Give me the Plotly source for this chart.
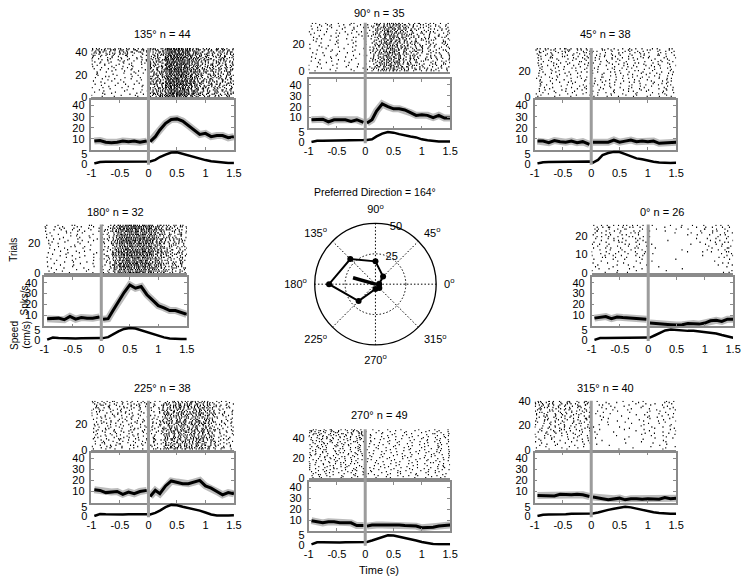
import plotly.graph_objects as go

W, H = 748, 585
FONT = "Liberation Sans, Arial, Helvetica, sans-serif"

# ---------------- data ----------------
DIRECTIONS = [135, 90, 45, 180, 0, 225, 270, 315]
TRIALS = {135: 44, 90: 35, 45: 38, 180: 32, 0: 26, 225: 38, 270: 49, 315: 40}
X_TICKS = [-1, -0.5, 0, 0.5, 1, 1.5]
X_TICK_TEXT = ["-1", "-0.5", "0", "0.5", "1", "1.5"]
RATE_TICKS = [10, 20, 30, 40]
SPEED_TICKS = [0, 5]
EVENT_TIME = 0

PRE_T = [-0.95, -0.85, -0.75, -0.65, -0.55, -0.45, -0.35, -0.25, -0.15, -0.03]
POST_T = [0.03, 0.12, 0.2, 0.3, 0.4, 0.5, 0.6, 0.7, 0.8, 0.9, 1.0, 1.1, 1.2, 1.3, 1.4, 1.5]

RATE_PRE_135 = [8, 8.5, 7, 6.5, 7, 8, 7.5, 8, 7, 8]
RATE_POST_135 = [7.5, 12, 18, 24, 27.5, 28, 26, 22, 18.5, 14, 15, 12, 13, 13, 11, 12]
SPEED_PRE_135 = [0.1, 0.9, 1.0, 1.0, 1.0, 1.0, 1.1, 1.1, 1.1, 1.2]
SPEED_POST_135 = [1.2, 2, 3.5, 4.8, 5.9, 6.0, 5.2, 4.1, 3.3, 2.6, 1.9, 1.3, 0.9, 0.6, 0.4, 0.4]

RATE_PRE_90 = [8, 8.5, 8.5, 6, 8, 8, 8, 6.5, 8, 5.5]
RATE_POST_90 = [5, 8, 16, 22.5, 20, 18, 18, 17, 14.5, 12, 12.5, 12, 10, 12, 9.5, 9.5]
SPEED_PRE_90 = [0.1, 0.7, 0.8, 0.8, 0.9, 1.0, 1.0, 0.9, 1.0, 1.1]
SPEED_POST_90 = [1.2, 1.5, 3, 4.5, 5.3, 5, 4.2, 3.8, 3, 2.5, 1.5, 1, 0.6, 0.4, 0.3, 0.3]

RATE_PRE_45 = [8, 8, 6.5, 8.5, 7.5, 7, 8, 6.5, 7.5, 5]
RATE_POST_45 = [7, 7, 6.5, 7, 9, 7, 8, 9, 7.5, 8, 7.5, 8, 6, 6.5, 6.5, 7]
SPEED_PRE_45 = [0.1, 0.8, 0.9, 0.9, 1.0, 1.0, 1.0, 1.1, 1.1, 1.1]
SPEED_POST_45 = [0.6, 2, 4.5, 5.6, 6.2, 6.1, 5, 3.8, 2.8, 2.3, 1.6, 1, 0.6, 0.4, 0.4, 0.5]

RATE_PRE_180 = [7, 7, 7.5, 6, 9, 6.5, 8, 7.5, 7.5, 8.5]
RATE_POST_180 = [6.5, 7, 14, 23, 31, 38, 35, 36.5, 29, 24, 19, 17, 14.5, 14.5, 13, 11]
SPEED_PRE_180 = [0.2, 1.3, 1.1, 0.9, 0.8, 0.8, 0.9, 1.0, 1.1, 1.2]
SPEED_POST_180 = [1, 1.5, 3, 4.5, 5.8, 6.3, 6, 5, 4, 3, 2, 1.4, 0.8, 0.5, 0.5, 0.5]

RATE_PRE_0 = [7.5, 8.5, 9, 7, 8.5, 8, 7.5, 7, 7, 6.5]
RATE_POST_0 = [3, 2.5, 2.5, 2, 1.5, 1.2, 1.5, 2.5, 2.5, 2, 3, 5, 5.5, 4.5, 6.5, 6.5]
SPEED_PRE_0 = [0.1, 1.0, 1.0, 1.0, 1.0, 1.0, 1.0, 1.0, 1.0, 1.1]
SPEED_POST_0 = [1.3, 2.5, 3.8, 5, 5.5, 5.3, 4.8, 4.8, 4.8, 4.5, 4.2, 3.8, 3.4, 2.6, 1.8, 1.2]

RATE_PRE_225 = [11.5, 11, 9, 9.5, 10, 7.5, 9.5, 8, 10, 11]
RATE_POST_225 = [5.5, 11, 8, 15, 19.5, 18.5, 17, 17, 18.5, 20, 15, 13, 10, 7, 9, 8]
SPEED_PRE_225 = [0.2, 1.2, 1.1, 1.0, 0.9, 1.0, 1.1, 1.2, 1.2, 1.1]
SPEED_POST_225 = [1, 1.8, 3, 4.8, 6, 5.8, 5, 4.3, 3.8, 3, 2, 1, 0.5, 0.4, 0.5, 0.6]

RATE_PRE_270 = [9.5, 8.5, 7.5, 8.5, 8.5, 7.5, 7.5, 7.5, 5, 5]
RATE_POST_270 = [4.5, 5.5, 5.5, 5.5, 5.5, 6, 5.5, 5, 5, 4.5, 3, 3, 3.5, 4.5, 5, 5.5]
SPEED_PRE_270 = [0.2, 1.3, 1.3, 1.2, 1.2, 1.2, 1.3, 1.4, 1.6, 1.8]
SPEED_POST_270 = [1.5, 2.2, 3, 4.2, 5, 4.8, 4.2, 3.5, 2.8, 2.2, 1.4, 0.8, 0.4, 0.2, 0.2, 0.3]

RATE_PRE_315 = [6.5, 6.5, 6.5, 6, 7.5, 7, 7, 7.5, 7, 5.5]
RATE_POST_315 = [5, 4.5, 3.5, 2.5, 3.5, 4, 2.5, 3.5, 3.5, 3, 3.5, 3.5, 3, 4.5, 3.5, 4]
SPEED_PRE_315 = [0.2, 0.8, 0.9, 0.9, 1.0, 1.1, 1.3, 1.4, 1.6, 1.6]
SPEED_POST_315 = [1.5, 2, 2.7, 3.4, 4, 4.6, 5, 4.7, 4, 3.2, 2.6, 2.1, 1.8, 1.5, 1.4, 1.4]

# Raster: one string per trial (bottom trial first); each digit = spike count in a
# 100 ms bin from -1 s to 1.5 s (10 bins before movement onset, 15 after).
RASTER_BIN_START = -1.0
RASTER_BIN_WIDTH = 0.1

RASTER_135 = [
    "0100100010 123343322121111", "1000010100 213434322211211", "0010001001 122334432112121",
    "0101000100 221343232121112", "1000100010 112344322211121", "0010010001 123234332121211",
    "0100001010 211433423112111", "0001000100 122343322211112", "1010010000 213334322121211",
    "0001001010 121443232212111", "0100100001 112343423121121", "1000010100 221334322112211",
    "0010100010 122433332211112", "0100010001 212343322121211", "1001000100 121334432212111",
    "0010010010 112443322121121", "0100101000 221343232211212", "1000010010 122334322112111",
    "0011000100 212433423121211", "0100100010 121343322212112", "1001001000 112334332121121",
    "0100010101 221433322211211", "1010000100 122343423112111", "0001010010 212334322221121",
    "0100101001 121443232112112", "1010010100 112343322211211", "0101001010 221334432121121",
    "1001010100 122433322212111", "0110100101 212343232121212", "1010101010 121334322211121",
    "0101010101 112443423112211", "1101010010 221343322121112", "1010110101 122334332212121",
    "0110101011 212433322121211", "1101011010 121343232211121", "1011010110 112334423121212",
    "1101101011 221443322212121", "2111011101 122343332121211", "1112111011 212334322211212",
    "2111121111 121433423122121", "1211112121 212343322211212", "2121211112 122334432122121",
    "1212121211 221343322212212", "2121212121 212443332121221",
]
RASTER_90 = [
    "0100100010 012222221111111", "1001000100 112322211211101", "0010010001 021232212111111",
    "0100001010 112223221111011", "1000100100 012232112111110", "0010010010 111322221111111",
    "0101000100 012223212101111", "1000101001 112232211111011", "0010010100 021322221111101",
    "0100100010 112223212111111", "1001001000 012232121111111", "0010100101 111322212101111",
    "0100010010 012223221111011", "1010001000 112232211111111", "0001010100 021322122111101",
    "0100100010 112223211211111", "1001001001 012232221111011", "0010010100 111322212111111",
    "0101000010 012223221111101", "1000101000 112232112111111", "0010010101 021322221101111",
    "0100100010 112223212111011", "1001010100 012232211111111", "0110001001 111322221111101",
    "1000100110 012223212111111", "0101010001 112232121101111", "1010001010 021322221111011",
    "0100110100 112223212111111", "1001001011 012232211111101", "0110100100 111322221111111",
    "1001010010 012223212101111", "0100101101 112232221111011", "1011010010 021322212111111",
    "0101101101 112223221111101", "1101010110 012232211211111",
]
RASTER_45 = [
    "1001001000 101010010100101", "0100100101 010100101010010", "1010010010 100101010001010",
    "0101001001 011010001010101", "1001010100 100100110100100", "0100100010 010011001010011",
    "1010010101 101000101001010", "0101001010 010101010100101", "1000100101 100100101010010",
    "0110010010 011010010101001", "1001001001 100101001010110", "0100110100 010010110001010",
    "1010001010 101001001010101", "0101010001 010110010100010", "1001001010 100001101001011",
    "0110100101 011010010110100", "1001010010 100101001001010", "0100101001 010010110100101",
    "1010010100 101001001011010", "0101001011 010110100100101", "1001100100 100001011010010",
    "0110010010 011010100101001", "1001001101 100101010010110", "0100110010 010010101001010",
    "1011001001 101001010110101", "0101010110 010110100101010", "1001101001 100101011010010",
    "0110010110 011010100101101", "1010101001 101001010010110", "0101010110 010110101001010",
    "1011001011 100101010110101", "0110110101 011010101010010", "1101011010 101101010101101",
    "1011101101 010110101101010", "1110110111 101011011010101", "1101111011 110101101101011",
    "1111011111 011110110110110", "2111121111 111011111011011",
]
RASTER_180 = [
    "0100100010 112344433221211", "1001000101 013343444332121", "0010010100 112434343222111",
    "0101001000 013344434321212", "1000100010 112443343222121", "0010010001 113344433321111",
    "0100001010 012434344232211", "1001010100 112344443321121", "0010100010 013443343222112",
    "0100010001 112344434321211", "1001001010 012434443232121", "0010100100 113344343222111",
    "0101000010 112443434321212", "1000101001 013344443232121", "0010010100 112434344322111",
    "0100100010 112344433221211", "1001001001 013443344332121", "0010110100 112344434222112",
    "0100010010 012434343321211", "1010001001 113344443232121", "0101010100 112443343322111",
    "1000101010 013344434221212", "0110010001 112434443332121", "1001001010 112344343222111",
    "0100110100 013443434321211", "1010010011 112344443232121", "0101101000 012434344322112",
    "1001010101 113344433221211", "0110101010 112443343332121", "1011010101 013344434222111",
    "1101011010 112434443321212", "1010110110 113344343232121",
]
RASTER_0 = [
    "0010101000 000000000000011", "1000100100 000100000000001", "0101001010 000000100000000",
    "1001000100 010000000000010", "0100101001 000000000000101", "1010010010 000000000000011",
    "0100100101 100000000001000", "1001010010 000010000000001", "0110101010 000000000000110",
    "1011010101 000000000100011", "0101101011 100000000000101", "1010110101 000000100101011",
    "0101011010 000001000010110", "1011010110 010000000001011", "0110101101 000000000010101",
    "1101011010 100000010010110", "1010110101 000000000101011", "0101101011 000100000010101",
    "1011010110 000000001011010", "1101101101 100000000000101", "1011011011 000000101010110",
    "1101101110 000010010101011", "1110110111 100100000101101", "1101111011 010010010110110",
    "1111011110 001001001011011", "1111111111 100101010101101",
]
RASTER_225 = [
    "1010101010 112222222221101", "0101010101 011222122211110", "1011010010 101122222121011",
    "0101101101 111212212221101", "1010110010 012222222211110", "0110101101 101222122221011",
    "1011010110 111122222212101", "0101101011 012212222221110", "1010110101 111222122211011",
    "1101011010 101122222221101", "0110101101 011222212212110", "1011010110 111212222121011",
    "0101101011 102222122221101", "1010110101 011122222211110", "1101011010 111222212221011",
    "0110101101 101212222212101", "1011010110 012222122221110", "0101101011 111122222121011",
    "1010110101 101222212221101", "1101011010 011212222211110", "0110101101 111222122221011",
    "1011010110 102122222212101", "0101101011 011222212221110", "1010110101 111212222121011",
    "1101011010 101222122221101", "0110101101 012122222211110", "1011010110 111222212221011",
    "0101101011 101212222212101", "1010110101 011222122221110", "1101011010 111122222121011",
    "1111011011 102222212221101", "1101110111 011212222211110", "1111011110 111222122221011",
    "1011111011 101122222212101", "1111101111 012222212221110", "1110111111 111212222121011",
    "1111111011 101222122221101", "2111111111 011122222211110",
]
RASTER_270 = [
    "1010010100 010010001010010", "0101001010 100100100001001", "1001010010 001001010100100",
    "0110100101 010100001001010", "1001001010 100010100100001", "0101010101 001001001010100",
    "1010101001 010100100001010", "0101010110 100001010100100", "1011001010 001010001001011",
    "0100110101 010001010010100", "1010101010 100100100101001", "0101011001 001010010000110",
    "1001100110 010001001010010", "0110011001 100100100100101", "1010100110 001010010010010",
    "0101011010 010001001001100", "1001100101 100100100100010", "0110011010 001010010010101",
    "1010100101 010001001001010", "0101011010 100100100100100", "1011100101 001010010010011",
    "0110011010 010100101001000", "1001100101 100010010010101", "1110011010 001001001001010",
    "0101100111 010100100100101", "1010011010 100010010010010", "0111100101 001001001001101",
    "1000111010 010100100100010", "0111000101 100010010010101", "1010111010 001001001001010",
    "0101000111 010100100100100", "1110101010 100010010010011", "0101110101 001001001001100",
    "1010101110 010100100100010", "0111010101 100010010010101", "1010111010 001001001001010",
    "0111010111 010100100100101", "1101101010 100010010010010", "1011011101 001001001001101",
    "0111101011 010100100100010", "1101110111 100010010010101", "1011011110 001001001001010",
    "1111101011 010100100100101", "1101111101 100010010010010", "1111011111 001001001001101",
    "1110111111 010100100100010", "1111110111 100010010010101", "2111111110 001001001001010",
    "1111111111 010100100100101",
]
RASTER_315 = [
    "0010010000 000010000000100", "1000100100 000000010000010", "0100001010 000000000010001",
    "1001000100 000100000000100", "0010100010 100000000000010", "0100010001 000000100010000",
    "1001001010 000000001000010", "0100100101 010000000000100", "1010010010 000001000100000",
    "0101001001 100000000001001", "1001010100 000000100000010", "0110100101 000010000010100",
    "1010010110 010000001000001", "0101101001 000000000101010", "1011010010 100100000000100",
    "0101101101 000000010010001", "1010110110 010001000100010", "0110101011 000000100001001",
    "1011010101 100010000010100", "0101011010 000000001000010", "1010110101 010100000100001",
    "0110101110 000000010010100", "1011011011 001000100000010", "1101101010 000010000101001",
    "0110110101 010000001000100", "1011011011 000100100010010", "1101101101 001000000101001",
    "0111011011 010001000010100", "1011101101 000000010100010", "1101110110 100100000001001",
    "1110111011 001000100100010", "1011101111 010010000010100", "1111011101 000100100001001",
    "1101111011 001000010010010", "1111101111 010010001000101", "1110111111 000101000100010",
    "1111110111 011000100010100", "1111111101 000100010101001", "2111111111 001010001000110",
    "1121111111 010001010100011",
]

TUNING_DIRS = [0, 45, 90, 135, 180, 225, 270, 315]
TUNING_RATE = [3, 8.9, 18.8, 29.3, 38.2, 19.6, 4, 4.5]
PREF_DIR = 164
PREF_MAG = 19.2
POLAR_RMAX = 50
POLAR_RTICKS = [25, 50]

DATA = {
    135: (RATE_PRE_135, RATE_POST_135, SPEED_PRE_135, SPEED_POST_135, RASTER_135),
    90: (RATE_PRE_90, RATE_POST_90, SPEED_PRE_90, SPEED_POST_90, RASTER_90),
    45: (RATE_PRE_45, RATE_POST_45, SPEED_PRE_45, SPEED_POST_45, RASTER_45),
    180: (RATE_PRE_180, RATE_POST_180, SPEED_PRE_180, SPEED_POST_180, RASTER_180),
    0: (RATE_PRE_0, RATE_POST_0, SPEED_PRE_0, SPEED_POST_0, RASTER_0),
    225: (RATE_PRE_225, RATE_POST_225, SPEED_PRE_225, SPEED_POST_225, RASTER_225),
    270: (RATE_PRE_270, RATE_POST_270, SPEED_PRE_270, SPEED_POST_270, RASTER_270),
    315: (RATE_PRE_315, RATE_POST_315, SPEED_PRE_315, SPEED_POST_315, RASTER_315),
}

# ---------------- layout (pixel boxes) ----------------
# x0, x1, title_y, raster_top, raster_bottom, rate_top, rate_bottom(=speed_top), speed_bottom
BOX = {
    135: (88, 233, 29, 43, 93, 96, 147, 162),
    90: (309, 453, 7, 17, 67, 75, 125, 140),
    45: (539, 683, 29, 43, 93, 96, 147, 162),
    180: (40, 185, 210, 223, 273, 277, 327, 342),
    0: (597, 741, 210, 223, 273, 277, 327, 342),
    225: (88, 233, 390, 403, 453, 456, 507, 522),
    270: (309, 453, 418, 432, 482, 486, 536, 551),
    315: (539, 683, 390, 403, 453, 456, 507, 522),
}


def fx(p):
    return p / W


def fy(p):
    return 1 - p / H


def scatter01(*vals):
    # deterministic within-bin placement of spikes (visual spread only)
    h = 2166136261
    for v in vals:
        h ^= (v & 0xFFFFFFFF)
        h = (h * 16777619) & 0xFFFFFFFF
    h ^= h >> 13
    h = (h * 0x5BD1E995) & 0xFFFFFFFF
    h ^= h >> 15
    return ((h % 10000) + 0.5) / 10000.0


AX_GRAY = "#8a8a8a"
ZERO_GRAY = "#9c9c9c"
TICKFONT = dict(family=FONT, size=11, color="black")

fig = go.Figure()
layout = {}
shapes = []
annotations = []
k = 0


def axkeys(i):
    s = "" if i == 1 else str(i)
    return "xaxis" + s, "yaxis" + s, "x" + s, "y" + s


for d in DIRECTIONS:
    x0, x1, ty, rt, rb, qt, qb, sb = BOX[d]
    n = TRIALS[d]
    rate_pre, rate_post, sp_pre, sp_post, raster = DATA[d]

    # ---- raster ----
    k += 1
    xa, ya, xr, yr = axkeys(k)
    raster_x_ref = xr
    xs, ys = [], []
    for ti, row in enumerate(raster):
        digits = row.replace(" ", "")
        for b, ch in enumerate(digits):
            c = int(ch)
            t0 = RASTER_BIN_START + b * RASTER_BIN_WIDTH
            for j in range(c):
                u = scatter01(d, ti, b, j)
                xs.append(t0 + RASTER_BIN_WIDTH * (j + u) / c)
                ys.append(ti + 0.5)
    fig.add_trace(go.Scatter(x=xs, y=ys, mode="markers", xaxis=xr, yaxis=yr,
                             marker=dict(symbol="line-ns-open", size=1, color="black",
                                         line=dict(width=1.1, color="black")),
                             hoverinfo="skip"))
    step = 10 if n < 30 else 20
    layout[xa] = dict(domain=[fx(x0), fx(x1)], range=[-1, 1.5], anchor=yr,
                      showticklabels=False, ticks="", showgrid=False, zeroline=False,
                      showline=True, linecolor=AX_GRAY, linewidth=1.5)
    layout[ya] = dict(domain=[fy(rb), fy(rt)], range=[0, n], anchor=xr,
                      tickvals=list(range(0, n + 1, step)), ticks="", showgrid=False,
                      zeroline=False, showline=False, tickfont=TICKFONT, ticklabelstandoff=3)

    # ---- firing rate ----
    k += 1
    xa, ya, xr, yr = axkeys(k)
    for tt, rr in ((PRE_T, rate_pre), (POST_T, rate_post)):
        fig.add_trace(go.Scatter(x=tt, y=rr, mode="lines", xaxis=xr, yaxis=yr,
                                 line=dict(color="rgba(120,120,120,0.5)", width=7),
                                 hoverinfo="skip"))
        fig.add_trace(go.Scatter(x=tt, y=rr, mode="lines", xaxis=xr, yaxis=yr,
                                 line=dict(color="black", width=3), hoverinfo="skip"))
    layout[xa] = dict(domain=[fx(x0), fx(x1)], range=[-1, 1.5], anchor=yr,
                      tickvals=X_TICKS, showticklabels=False, ticks="inside", ticklen=3,
                      tickcolor=AX_GRAY, showgrid=False, zeroline=False,
                      showline=True, mirror="ticks", linecolor=AX_GRAY, linewidth=1.5)
    layout[ya] = dict(domain=[fy(qb), fy(qt)], range=[0, 45], anchor=xr,
                      tickvals=RATE_TICKS, ticks="inside", ticklen=3, tickcolor=AX_GRAY,
                      showgrid=False, zeroline=False, showline=True, mirror="ticks",
                      linecolor=AX_GRAY, linewidth=1.5, tickfont=TICKFONT,
                      ticklabelstandoff=3)

    # ---- speed ----
    k += 1
    xa, ya, xr, yr = axkeys(k)
    fig.add_trace(go.Scatter(x=PRE_T + POST_T, y=sp_pre + sp_post, mode="lines",
                             xaxis=xr, yaxis=yr, line=dict(color="black", width=2.5),
                             hoverinfo="skip"))
    layout[xa] = dict(domain=[fx(x0), fx(x1)], range=[-1, 1.5], anchor=yr,
                      tickvals=X_TICKS, ticktext=X_TICK_TEXT, ticks="", showgrid=False,
                      zeroline=False, showline=False, tickfont=TICKFONT)
    layout[ya] = dict(domain=[fy(sb), fy(qb)], range=[-0.5, 7.2], anchor=xr,
                      tickvals=SPEED_TICKS, ticks="", showgrid=False, zeroline=False,
                      showline=False, tickfont=TICKFONT, ticklabelstandoff=3)

    # movement onset line through all three panels
    shapes.append(dict(type="line", xref=raster_x_ref, yref="paper",
                       x0=EVENT_TIME, x1=EVENT_TIME, y0=fy(sb), y1=fy(rt),
                       line=dict(color=ZERO_GRAY, width=3), layer="above"))

    annotations.append(dict(text=f"{d}° n = {n}", x=fx((x0 + x1) / 2), y=fy(ty)))

# ---- polar tuning plot ----
fig.add_trace(go.Scatterpolar(r=TUNING_RATE + TUNING_RATE[:1],
                              theta=TUNING_DIRS + TUNING_DIRS[:1],
                              mode="lines+markers",
                              line=dict(color="black", width=2),
                              marker=dict(color="black", size=6),
                              subplot="polar", hoverinfo="skip"))
fig.add_trace(go.Scatterpolar(r=[0, PREF_MAG], theta=[PREF_DIR, PREF_DIR], mode="lines",
                              line=dict(color="black", width=3.5), subplot="polar",
                              hoverinfo="skip"))
layout["polar"] = dict(
    domain=dict(x=[fx(315), fx(439)], y=[fy(346), fy(222)]),
    bgcolor="white",
    angularaxis=dict(rotation=0, direction="counterclockwise", tickmode="array",
                     tickvals=TUNING_DIRS,
                     ticktext=[f"{a}<sup>o</sup>" for a in TUNING_DIRS],
                     showline=True, linecolor="black", linewidth=1.3,
                     showgrid=True, gridcolor="black", griddash="1.5px,2px", gridwidth=1,
                     ticks="outside", ticklen=5, tickcolor="rgba(0,0,0,0)",
                     tickfont=dict(family=FONT, size=11, color="black")),
    radialaxis=dict(range=[0, POLAR_RMAX], tickvals=POLAR_RTICKS, showline=False,
                    showgrid=True, gridcolor="black", griddash="1.5px,2px", gridwidth=1,
                    angle=82, tickangle=82, ticks="",
                    tickfont=dict(family=FONT, size=11, color="black")),
)
annotations.append(dict(text=f"Preferred Direction = {PREF_DIR}°", x=fx(377), y=fy(190),
                        font=dict(family=FONT, size=10.5, color="black")))

# ---- axis labels ----
LABFONT = dict(family=FONT, size=10, color="black")
annotations += [
    dict(text="Trials", x=fx(9), y=fy(249), textangle=-90, font=LABFONT),
    dict(text="Spks/s", x=fx(20), y=fy(301), textangle=-90, font=LABFONT),
    dict(text="Speed", x=fx(9), y=fy(336), textangle=-90, font=LABFONT),
    dict(text="(cm/s)", x=fx(21), y=fy(336), textangle=-90, font=LABFONT),
    dict(text="Time (s)", x=fx(381), y=fy(576), font=dict(family=FONT, size=11,
                                                            color="black")),
]
for a in annotations:
    a.setdefault("font", dict(family=FONT, size=11, color="black"))
    a.update(xref="paper", yref="paper", showarrow=False, xanchor="center",
             yanchor="middle")

fig.update_layout(**layout)
fig.update_layout(width=W, height=H, margin=dict(l=0, r=0, t=0, b=0),
                  paper_bgcolor="white", plot_bgcolor="white", showlegend=False,
                  shapes=shapes, annotations=annotations,
                  font=dict(family=FONT, size=11, color="black"))
fig.write_html("out.html", config={"displayModeBar": False},
               post_script="document.body.style.margin='0';"
                           "document.body.style.overflow='hidden';")
